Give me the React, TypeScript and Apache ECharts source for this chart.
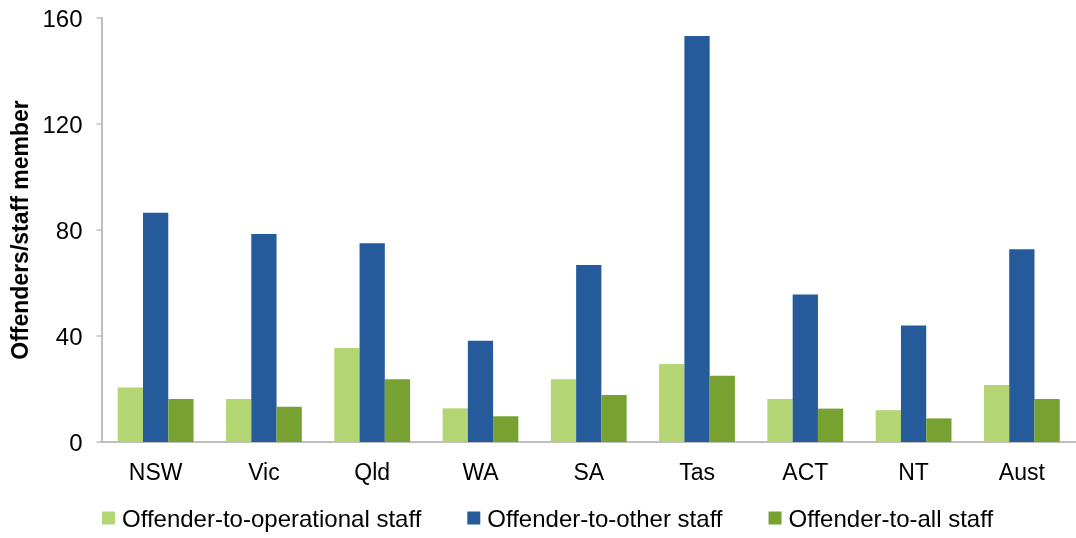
import React, { useEffect, useRef } from "react";
import * as echarts from "echarts";

const categories = ["NSW", "Vic", "Qld", "WA", "SA", "Tas", "ACT", "NT", "Aust"];
const operationalStaff = [20.6, 16.2, 35.5, 12.7, 23.7, 29.4, 16.2, 12.0, 21.5];
const otherStaff = [86.5, 78.5, 75.0, 38.2, 66.8, 153.2, 55.7, 44.0, 72.7];
const allStaff = [16.2, 13.3, 23.7, 9.7, 17.7, 25.0, 12.6, 8.9, 16.2];
const seriesNames = ["Offender-to-operational staff", "Offender-to-other staff", "Offender-to-all staff"];
const yTicks = { min: 0, max: 160, interval: 40 };

export default function App() {
  const ref = useRef<HTMLDivElement>(null);
  useEffect(() => {
    if (!ref.current) return;
    const chart = echarts.init(ref.current, undefined, { renderer: "svg" });
    const font = "Liberation Sans, Arial, sans-serif";
    chart.setOption({
      animation: false,
      textStyle: { fontFamily: font },
      grid: { left: 101.5, right: -5, top: 18, bottom: 96 },
      legend: {
        bottom: 8,
        left: 102,
        padding: 0,
        itemWidth: 13,
        itemHeight: 13,
        itemGap: 46,
        icon: "rect",
        textStyle: { fontSize: 24, color: "#000", fontFamily: font, padding: [0, 0, 0, 2] },
        data: seriesNames,
      },
      xAxis: {
        type: "category",
        data: categories,
        axisLine: { lineStyle: { color: "#bfbfbf", width: 2 } },
        axisTick: { show: false },
        axisLabel: { fontSize: 23, color: "#000", margin: 18, fontFamily: font },
      },
      yAxis: {
        type: "value",
        min: yTicks.min,
        max: yTicks.max,
        interval: yTicks.interval,
        name: "Offenders/staff member",
        nameLocation: "middle",
        nameGap: 67,
        nameTextStyle: { fontSize: 23, fontWeight: "bold", color: "#000", fontFamily: font },
        axisLine: { show: true, lineStyle: { color: "#bfbfbf", width: 2 } },
        axisTick: { show: true, length: 5, lineStyle: { color: "#bfbfbf", width: 1.5 } },
        splitLine: { show: false },
        axisLabel: { fontSize: 24, color: "#000", margin: 19, fontFamily: font },
      },
      series: [
        { name: seriesNames[0], type: "bar", data: operationalStaff, itemStyle: { color: "#b3d574" }, barGap: "0%", barCategoryGap: "30%" },
        { name: seriesNames[1], type: "bar", data: otherStaff, itemStyle: { color: "#265b9b" }, barGap: "0%", barCategoryGap: "30%" },
        { name: seriesNames[2], type: "bar", data: allStaff, itemStyle: { color: "#77a232" }, barGap: "0%", barCategoryGap: "30%" },
      ],
    });
    return () => chart.dispose();
  }, []);
  return <div ref={ref} style={{ position: "fixed", left: 0, top: 0, width: 1076, height: 538 }} />;
}
